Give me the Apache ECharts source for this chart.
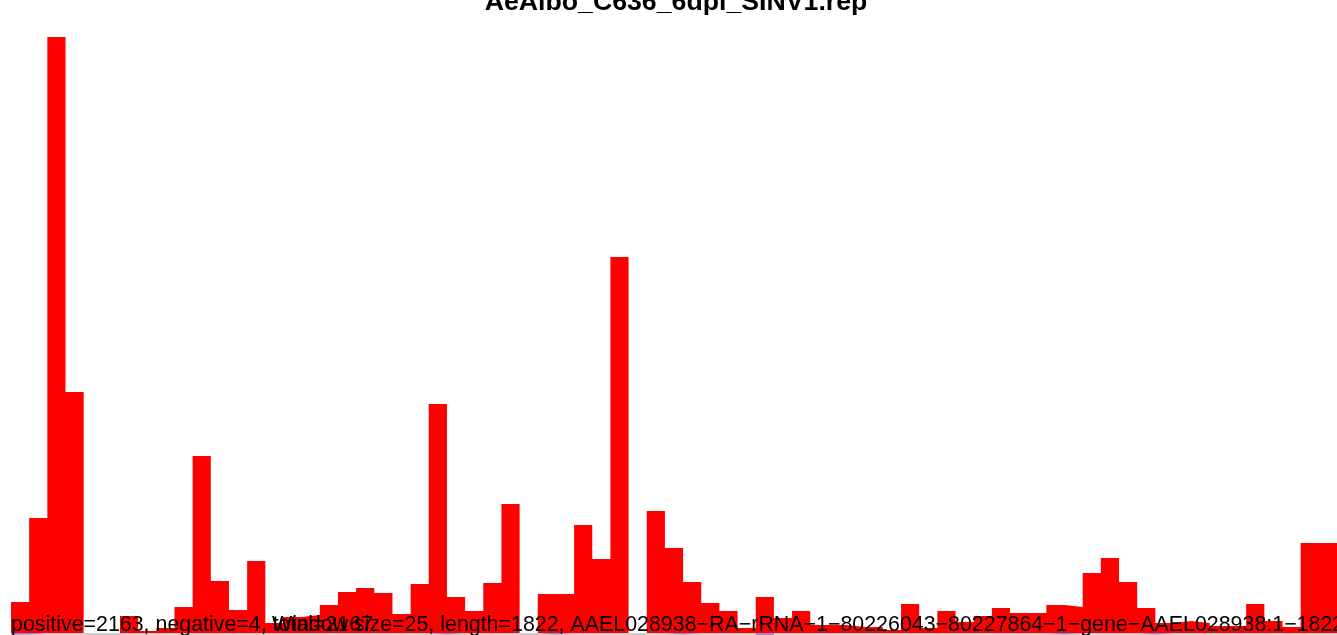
<!DOCTYPE html>
<html>
<head>
<meta charset="utf-8">
<script src="https://cdn.jsdelivr.net/npm/echarts@6/dist/echarts.min.js"></script>
<style>
html,body{margin:0;padding:0;background:#fff;}
#chart{width:1337px;height:635px;}
</style>
</head>
<body>
<div id="chart"></div>
<script>
// 25-nt windows along the 1822-nt reference (74 window edges for 73 windows)
const windowEdges = Array.from({length: 74}, (_, i) => String(i * 25));
const positiveCounts = [31,115,596,241,0,0,17,2,5,26,177,52,23,72,10,16,18,28,41,45,40,19,49,229,36,22,50,129,0,39,39,108,74,376,0,122,85,51,30,22,5,36,15,22,8,8,6,6,3,29,5,22,11,17,25,20,20,28,26,60,75,51,25,10,12,10,7,7,29,12,6,90,90];
const negativeCounts = [-1.5,0,0,0,0,0,0,0,0,0,0,0,0,0,0,0,0,0,0,0,0,0,0,-1.5,0,0,0,0,0,-1.5,0,0,0,0,0,0,-1.5,0,0,0,0,-2.5,0,0,0,0,0,0,0,0,0,0,0,0,0,0,0,-1.5,0,0,0,0,-1.5,0,0,0,0,0,0,0,0,0,0];
const titleText = 'AeAlbo_C636_6dpi_SINV1.rep';
const statsText = 'positive=2163, negative=4, total=2167';
const infoText = 'Window size=25, length=1822, AAEL028938\u2212RA\u2212rRNA\u22121\u221280226043\u221280227864\u22121\u2212gene\u2212AAEL028938:1\u22121822';

// step outline: each window value held from its left edge to the next edge
const stepData = arr => arr.concat([arr[arr.length - 1]]);

const chart = echarts.init(document.getElementById('chart'), null, {renderer: 'canvas'});
chart.setOption({
  animation: false,
  backgroundColor: '#ffffff',
  grid: {left: 11, right: -2.6, top: 37, bottom: 0, containLabel: false},
  xAxis: {
    type: 'category', data: windowEdges, boundaryGap: false,
    axisLine: {show: false}, axisTick: {show: false}, axisLabel: {show: false}, splitLine: {show: false}
  },
  yAxis: {
    type: 'value', min: -2, max: 596,
    axisLine: {show: false}, axisTick: {show: false}, axisLabel: {show: false}, splitLine: {show: false}
  },
  series: [
    {
      type: 'line', step: 'end', data: stepData(positiveCounts),
      symbol: 'none', showSymbol: false, silent: true,
      lineStyle: {width: 0, opacity: 0},
      areaStyle: {color: '#ff0000', opacity: 1, origin: 0},
      z: 2,
      markLine: {
        silent: true, symbol: 'none', animation: false,
        label: {show: false},
        lineStyle: {color: '#bebebe', width: 1.5, type: 'solid'},
        data: [{yAxis: -1}]
      }
    },
    {
      type: 'line', step: 'end', data: stepData(negativeCounts),
      symbol: 'none', showSymbol: false, silent: true,
      lineStyle: {width: 0, opacity: 0},
      areaStyle: {color: '#0000ff', opacity: 1, origin: 0},
      z: 3
    }
  ],
  graphic: [
    {type: 'text', x: 676, y: 2.5, z: 10,
     style: {text: titleText, fill: '#000', font: 'bold 26.7px "Liberation Sans", Arial, sans-serif', textAlign: 'center', textVerticalAlign: 'middle'}},
    {type: 'text', x: 11, y: 625, z: 10,
     style: {text: statsText, fill: '#000', font: '21.4px "Liberation Sans", Arial, sans-serif', textAlign: 'left', textVerticalAlign: 'middle'}},
    {type: 'text', x: 272, y: 625, z: 10,
     style: {text: infoText, fill: '#000', font: '21.4px "Liberation Sans", Arial, sans-serif', textAlign: 'left', textVerticalAlign: 'middle'}}
  ]
});
</script>
</body>
</html>
